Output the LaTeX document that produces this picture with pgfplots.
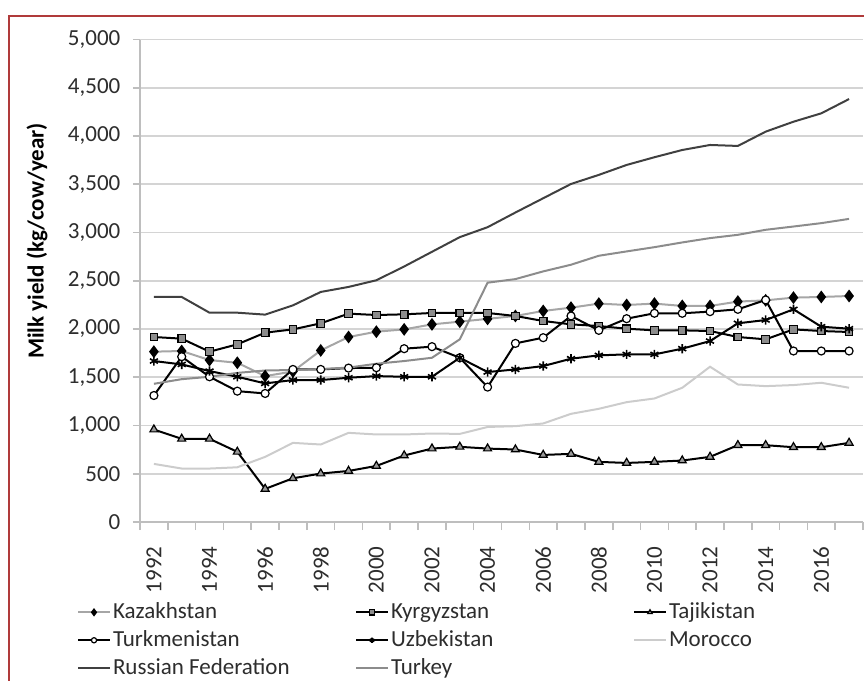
\documentclass[border=0pt]{standalone}
\usepackage{fontspec}
\setmainfont{Carlito}
\usepackage{pgfplots}
\pgfplotsset{compat=1.18}
\definecolor{framered}{RGB}{176,58,58}
\definecolor{gridgray}{RGB}{212,212,212}
\definecolor{axisgray}{RGB}{190,190,190}
\definecolor{txt}{RGB}{45,45,45}

\begin{document}
\begin{tikzpicture}
\begin{axis}[
  scale only axis, width=361.5pt, height=241.25pt,
  xmin=1991.5, xmax=2017.5, ymin=0, ymax=5000,
  axis x line*=bottom, axis y line*=left,
  axis line style={axisgray, line width=0.8pt},
  ytick={0,500,...,5000},
  ymajorgrids, grid style={gridgray, line width=0.8pt},
  xtick={1992,1994,...,2016},
  minor xtick={1991.5,1992.5,...,2017.5},
  tick align=outside, major tick length=3.5pt, minor tick length=4pt,
  major x tick style={draw=none},
  minor x tick style={axisgray, line width=0.8pt},
  ytick style={axisgray, line width=0.8pt},
  tick label style={font=\fontsize{11.5}{13}\selectfont, text=txt},
  /pgf/number format/assume math mode=true,
  /pgf/number format/1000 sep={,},
  yticklabel style={xshift=-2.5pt},
  xticklabel={\pgfmathprintnumber[1000 sep={}]{\tick}\hspace*{5pt}},
  xticklabel style={rotate=90, anchor=east},
  legend style={at={(-0.0968,-0.153)}, anchor=north west, draw=none, fill=none,
    legend columns=3, font=\fontsize{11.5}{13}\selectfont, text=txt,
    nodes={inner sep=1pt}, row sep=2.5pt},
  legend cell align=left,
  legend image code/.code={\draw[mark repeat=2,mark phase=2,#1]
    plot coordinates {(0pt,0pt)(8pt,0pt)(16pt,0pt)};},
  legend image post style={mark size=1.3pt},
  line width=1pt,
]
% Kazakhstan
\addplot[color=black!35, mark=diamond*, mark size=2.4pt, mark options={fill=black, draw=black}]
  coordinates{(1992,1765)(1993,1772)(1994,1678)(1995,1650)(1996,1512)(1997,1560)
  (1998,1778)(1999,1917)(2000,1972)(2001,1996)(2002,2048)(2003,2076)(2004,2105)
  (2005,2135)(2006,2187)(2007,2221)(2008,2263)(2009,2249)(2010,2263)(2011,2239)
  (2012,2239)(2013,2284)(2014,2297)(2015,2325)(2016,2332)(2017,2342)};
\addlegendentry{\makebox[120pt][l]{Kazakhstan}}
% Kyrgyzstan
\addplot[color=black, mark=square*, mark size=1.9pt, mark options={fill=black!45, draw=black, line width=0.6pt}]
  coordinates{(1992,1917)(1993,1900)(1994,1765)(1995,1841)(1996,1962)(1997,1996)
  (1998,2059)(1999,2159)(2000,2145)(2001,2152)(2002,2166)(2003,2166)(2004,2166)
  (2005,2135)(2006,2083)(2007,2048)(2008,2031)(2009,2003)(2010,1986)(2011,1986)
  (2012,1979)(2013,1917)(2014,1893)(2015,1996)(2016,1979)(2017,1969)};
\addlegendentry{\makebox[120pt][l]{Kyrgyzstan}}
% Tajikistan
\addplot[color=black, mark=triangle*, mark size=2.3pt, mark options={fill=black!40, draw=black, line width=0.6pt}]
  coordinates{(1992,958)(1993,862)(1994,862)(1995,727)(1996,343)(1997,453)
  (1998,502)(1999,529)(2000,581)(2001,689)(2002,761)(2003,779)(2004,761)
  (2005,751)(2006,695)(2007,706)(2008,623)(2009,612)(2010,623)(2011,637)
  (2012,675)(2013,796)(2014,796)(2015,775)(2016,775)(2017,820)};
\addlegendentry{\makebox[120pt][l]{Tajikistan}}
% Turkmenistan
\addplot[color=black, mark=*, mark size=2pt, mark options={fill=white, draw=black, line width=0.6pt}]
  coordinates{(1992,1311)(1993,1713)(1994,1505)(1995,1356)(1996,1332)(1997,1581)
  (1998,1581)(1999,1595)(2000,1599)(2001,1796)(2002,1817)(2003,1702)(2004,1398)
  (2005,1851)(2006,1910)(2007,2135)(2008,1986)(2009,2107)(2010,2163)(2011,2163)
  (2012,2180)(2013,2204)(2014,2301)(2015,1772)(2016,1772)(2017,1772)};
\addlegendentry{\makebox[120pt][l]{Turkmenistan}}
% Uzbekistan
\addplot[color=black, mark=asterisk, mark size=2.3pt, mark options={line width=0.8pt}]
  coordinates{(1992,1668)(1993,1633)(1994,1564)(1995,1505)(1996,1436)(1997,1471)
  (1998,1471)(1999,1495)(2000,1512)(2001,1505)(2002,1505)(2003,1702)(2004,1554)
  (2005,1581)(2006,1616)(2007,1692)(2008,1727)(2009,1737)(2010,1737)(2011,1796)
  (2012,1875)(2013,2059)(2014,2093)(2015,2204)(2016,2024)(2017,2003)};
\addlegendentry{\makebox[120pt][l]{Uzbekistan}}
% Morocco
\addplot[color=black!20, no markers]
  coordinates{(1992,602)(1993,554)(1994,554)(1995,567)(1996,675)(1997,820)
  (1998,803)(1999,924)(2000,907)(2001,907)(2002,917)(2003,913)(2004,985)
  (2005,993)(2006,1021)(2007,1121)(2008,1173)(2009,1242)(2010,1280)(2011,1391)
  (2012,1609)(2013,1425)(2014,1408)(2015,1419)(2016,1443)(2017,1391)};
\addlegendentry{\makebox[120pt][l]{Morocco}}
% Russian Federation
\addplot[color=black!75, no markers]
  coordinates{(1992,2332)(1993,2332)(1994,2169)(1995,2169)(1996,2149)(1997,2245)
  (1998,2384)(1999,2436)(2000,2505)(2001,2648)(2002,2800)(2003,2952)(2004,3055)
  (2005,3207)(2006,3355)(2007,3503)(2008,3597)(2009,3700)(2010,3780)(2011,3855)
  (2012,3907)(2013,3897)(2014,4045)(2015,4148)(2016,4235)(2017,4383)};
\addlegendentry{\makebox[120pt][l]{Russian Federation}}
% Turkey
\addplot[color=black!45, no markers]
  coordinates{(1992,1432)(1993,1480)(1994,1505)(1995,1545)(1996,1570)(1997,1575)
  (1998,1585)(1999,1600)(2000,1640)(2001,1668)(2002,1702)(2003,1893)(2004,2480)
  (2005,2517)(2006,2597)(2007,2666)(2008,2759)(2009,2804)(2010,2848)(2011,2897)
  (2012,2942)(2013,2976)(2014,3028)(2015,3062)(2016,3097)(2017,3141)};
\addlegendentry{\makebox[120pt][l]{Turkey}}
\end{axis}
\node[rotate=90, font=\fontsize{11.5}{13}\selectfont\bfseries, text=black] at (-51.5pt,140.5pt) {Milk yield (kg/cow/year)};
\draw[framered, line width=1pt] (-65.25pt,-85pt) -- (-65.25pt,253pt) -- (370pt,253pt);
\pgfresetboundingbox
\path[use as bounding box] (-70pt,-79.5pt) rectangle (362pt,261pt);
\end{tikzpicture}
\end{document}
